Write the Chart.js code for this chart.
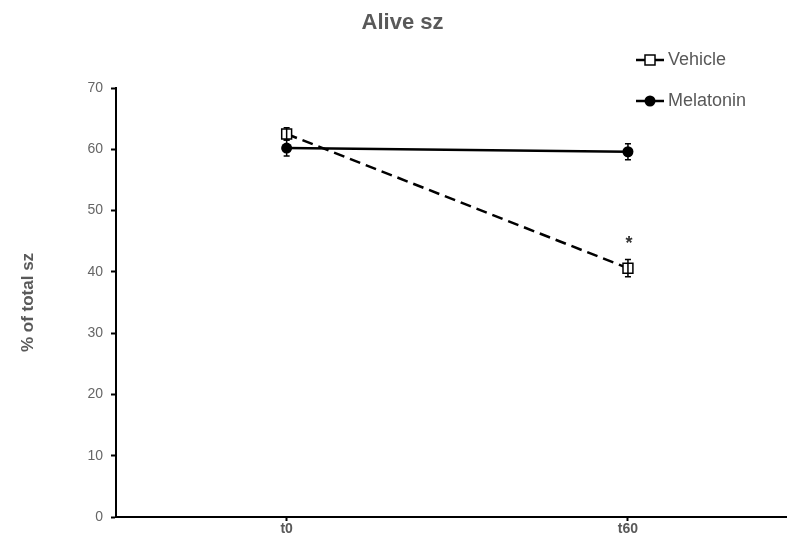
<!DOCTYPE html>
<html>
<head>
<meta charset="utf-8">
<script src="https://cdn.jsdelivr.net/npm/chart.js@4/dist/chart.umd.min.js"></script>
<style>
html,body{margin:0;padding:0;background:#fff;}
#wrap{width:787px;height:545px;position:relative;}
</style>
</head>
<body>
<div id="wrap"><canvas id="c" width="787" height="545"></canvas></div>
<script>
const categories = ['t0', 't60'];
const vehicleValues = [62.5, 40.6];
const vehicleErrors = [1.0, 1.4];
const melatoninValues = [60.2, 59.6];
const melatoninErrors = [1.3, 1.3];
const seriesNames = ['Vehicle', 'Melatonin'];
const yTicks = [0, 10, 20, 30, 40, 50, 60, 70];
const significance = [{series: 0, index: 1, text: '*'}];

const GRAY = '#595959';
const FONT = "'Liberation Sans', Arial, sans-serif";

const errorBarPlugin = {
  id: 'errorBars',
  afterDatasetsDraw(chart) {
    const ctx = chart.ctx;
    const ys = chart.scales.y, xs = chart.scales.x;
    chart.data.datasets.forEach((ds, di) => {
      ds.errors.forEach((e, i) => {
        const v = ds.data[i].y;
        const px = xs.getPixelForValue(ds.data[i].x);
        const top = ys.getPixelForValue(v + e);
        const bot = ys.getPixelForValue(v - e);
        ctx.save();
        ctx.strokeStyle = '#000';
        ctx.lineWidth = 1.5;
        ctx.beginPath();
        ctx.moveTo(px, top); ctx.lineTo(px, bot);
        ctx.moveTo(px - 3, top); ctx.lineTo(px + 3, top);
        ctx.moveTo(px - 3, bot); ctx.lineTo(px + 3, bot);
        ctx.stroke();
        ctx.restore();
      });
    });
    significance.forEach(s => {
      const ds = chart.data.datasets[s.series];
      const px = xs.getPixelForValue(ds.data[s.index].x);
      const py = ys.getPixelForValue(ds.data[s.index].y + ds.errors[s.index]);
      ctx.save();
      ctx.fillStyle = '#333';
      ctx.font = "bold 18px " + FONT;
      ctx.textAlign = 'center';
      ctx.textBaseline = 'alphabetic';
      ctx.fillText(s.text, px + 1, py - 11);
      ctx.restore();
    });
  }
};

const legendPlugin = {
  id: 'customLegend',
  afterDraw(chart) {
    const ctx = chart.ctx;
    const rows = [60, 101];
    chart.data.datasets.forEach((ds, i) => {
      const y = rows[i];
      ctx.save();
      ctx.strokeStyle = '#000';
      ctx.lineWidth = 2.5;
      ctx.beginPath();
      ctx.moveTo(636, y); ctx.lineTo(664, y);
      ctx.stroke();
      if (ds.pointStyle === 'rect') {
        ctx.fillStyle = '#fff';
        ctx.lineWidth = 1.5;
        ctx.fillRect(645, y - 5, 10, 10);
        ctx.strokeRect(645, y - 5, 10, 10);
      } else {
        ctx.fillStyle = '#000';
        ctx.beginPath();
        ctx.arc(650, y, 5.5, 0, Math.PI * 2);
        ctx.fill();
      }
      ctx.fillStyle = GRAY;
      ctx.font = "18px " + FONT;
      ctx.textAlign = 'left';
      ctx.textBaseline = 'middle';
      ctx.fillText(ds.label, 668, y);
      ctx.restore();
    });
  }
};

new Chart(document.getElementById('c'), {
  type: 'line',
  data: {
    datasets: [
      {
        label: seriesNames[0],
        data: categories.map((c, i) => ({x: i, y: vehicleValues[i]})),
        errors: vehicleErrors,
        borderColor: '#000',
        borderWidth: 2.5,
        borderDash: [11, 6],
        pointStyle: 'rect',
        pointRadius: 7,
        pointBackgroundColor: '#fff',
        pointBorderColor: '#000',
        pointBorderWidth: 1.5,
        tension: 0
      },
      {
        label: seriesNames[1],
        data: categories.map((c, i) => ({x: i, y: melatoninValues[i]})),
        errors: melatoninErrors,
        borderColor: '#000',
        borderWidth: 2.5,
        pointStyle: 'circle',
        pointRadius: 5.5,
        pointBackgroundColor: '#000',
        pointBorderColor: '#000',
        pointBorderWidth: 0,
        tension: 0
      }
    ]
  },
  options: {
    responsive: false,
    animation: false,
    layout: {autoPadding: false, padding: {top: 0, right: 0, bottom: 0, left: 18}},
    plugins: {
      legend: {display: false},
      tooltip: {enabled: false},
      title: {
        display: true,
        text: 'Alive sz',
        color: GRAY,
        font: {family: FONT, size: 22, weight: 'bold'},
        padding: {top: 10, bottom: 51.6}
      }
    },
    scales: {
      x: {
        type: 'linear',
        min: -0.5,
        max: 1.466,
        afterBuildTicks(scale) { scale.ticks = categories.map((c, i) => ({value: i})); },
        afterFit(scale) {
          scale.height = 28;
          scale.paddingLeft = 0;
          scale.paddingRight = 0;
        },
        ticks: {
          callback: (v) => categories[v] !== undefined ? categories[v] : '',
          color: GRAY,
          font: {family: FONT, size: 14, weight: 'bold'},
          padding: 0,
          maxRotation: 0,
          autoSkip: false
        },
        grid: {display: true, drawOnChartArea: false, drawTicks: true, tickLength: 4, color: '#000', tickWidth: 2},
        border: {display: true, color: '#000', width: 2}
      },
      y: {
        min: 0,
        max: 70,
        afterBuildTicks(scale) { scale.ticks = yTicks.map(v => ({value: v})); },
        afterFit(scale) { scale.width = 98; },
        ticks: {
          color: '#666',
          font: {family: FONT, size: 14},
          padding: 8
        },
        title: {
          display: true,
          text: '% of total sz',
          color: GRAY,
          font: {family: FONT, size: 17, weight: 'bold'},
          padding: {top: 0, bottom: 0}
        },
        grid: {display: true, drawOnChartArea: false, drawTicks: true, tickLength: 5, color: '#000', tickWidth: 2},
        border: {display: true, color: '#000', width: 2}
      }
    }
  },
  plugins: [errorBarPlugin, legendPlugin]
});
</script>
</body>
</html>
